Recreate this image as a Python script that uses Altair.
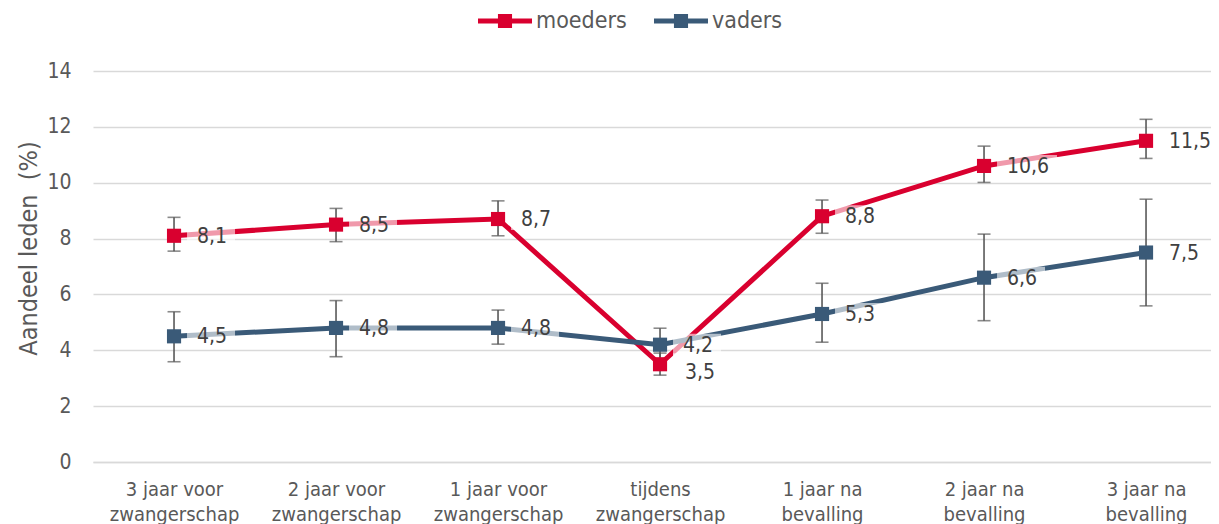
import altair as alt
import pandas as pd

cats = ["3 jaar voor zwangerschap", "2 jaar voor zwangerschap", "1 jaar voor zwangerschap",
        "tijdens zwangerschap", "1 jaar na bevalling", "2 jaar na bevalling", "3 jaar na bevalling"]
series = ["moeders", "vaders"]
moeders = [8.1, 8.5, 8.7, 3.5, 8.8, 10.6, 11.5]
moeders_lo = [7.55, 7.89, 8.10, 3.11, 8.19, 10.01, 10.87]
moeders_hi = [8.76, 9.08, 9.35, 3.90, 9.38, 11.31, 12.27]
vaders = [4.5, 4.8, 4.8, 4.2, 5.3, 6.6, 7.5]
vaders_lo = [3.59, 3.77, 4.22, 3.60, 4.29, 5.06, 5.59]
vaders_hi = [5.38, 5.78, 5.44, 4.79, 6.40, 8.16, 9.41]
y_ticks = [0, 2, 4, 6, 8, 10, 12, 14]

RED = "#D9002F"
BLUE = "#3A5A78"
GREY = "#595959"
FONT = "DejaVu Sans Condensed"

rows = []
for s, vals, lo, hi in [("moeders", moeders, moeders_lo, moeders_hi),
                        ("vaders", vaders, vaders_lo, vaders_hi)]:
    for c, v, l, h in zip(cats, vals, lo, hi):
        rows.append({"cat": c, "series": s, "value": v, "lo": l, "hi": h,
                     "label": f"{v:.1f}".replace(".", ",")})
df = pd.DataFrame(rows)

label_expr = ("split(replace(replace(datum.label, ' zwangerschap', '|zwangerschap'),"
              " ' bevalling', '|bevalling'), '|')")

x = alt.X("cat:N", sort=cats, title=None,
          scale=alt.Scale(type="point", padding=0.4506, align=0.555),
          axis=alt.Axis(labelAngle=0, labelExpr=label_expr, labelFont=FONT, labelFontSize=20,
                        labelColor=GREY, labelLineHeight=25, labelPadding=17, ticks=False,
                        domainColor="#D9D9D9", domainWidth=1.5, grid=False))
y = alt.Y("value:Q", title="Aandeel leden\u00a0\u00a0(%)",
          scale=alt.Scale(domain=[0, 14], nice=False),
          axis=alt.Axis(values=y_ticks, domain=False, ticks=False, labelFont=FONT,
                        labelFontSize=21, labelColor=GREY, labelPadding=22,
                        gridColor="#D9D9D9", gridWidth=1.5,
                        titleFont=FONT, titleFontSize=25, titleColor=GREY,
                        titleFontWeight="normal", titleX=-65, titleY=177,
                        titleBaseline="middle", titleAngle=-90))
color_scale = alt.Scale(domain=series, range=[RED, BLUE])

legend_path = "M-1.8,-0.17H1.8V0.17H-1.8Z M-0.47,-0.47H0.47V0.47H-0.47Z"
legend = alt.Legend(title=None, orient="none", direction="horizontal",
                    legendX=397, legendY=-65, symbolType=legend_path,
                    symbolSize=900, symbolStrokeWidth=0, symbolOpacity=1,
                    labelFont=FONT, labelFontSize=23, labelColor=GREY,
                    labelOffset=16, columnPadding=27, padding=0)

base = alt.Chart(df)

err = base.mark_rule(color=GREY, strokeWidth=1.6).encode(
    x=x, y=alt.Y("lo:Q"), y2="hi:Q")
cap_lo = base.mark_tick(color=GREY, thickness=1.6, size=13).encode(x=x, y="lo:Q")
cap_hi = base.mark_tick(color=GREY, thickness=1.6, size=13).encode(x=x, y="hi:Q")

lines = base.mark_line(strokeWidth=5).encode(
    x=x, y=y, color=alt.Color("series:N", scale=color_scale, legend=legend),
    detail="series:N")

points = base.mark_point(shape="square", filled=True, size=200, opacity=1).encode(
    x=x, y=y,
    color=alt.Color("series:N", scale=color_scale, legend=legend),
    order=alt.Order("series:N"))

short_box = "M1.3,-1.1H6.1V1.1H1.3Z"
long_box = "M1.3,-1.1H7.3V1.1H1.3Z"
boxes = base.mark_point(filled=True, size=400, color="white", opacity=0.6, strokeWidth=0).encode(
    x=x, y=y,
    shape=alt.condition("length(datum.label) > 3", alt.value(long_box), alt.value(short_box)))

is_moved = "datum.series == 'moeders' && datum.cat == 'tijdens zwangerschap'"
labels = base.transform_filter("!(" + is_moved + ")").mark_text(
    align="left", baseline="middle", dx=23, dy=1, font=FONT,
    fontSize=21, color="#404040").encode(x=x, y=y, text="label:N")
labels_moved = base.transform_filter(is_moved).mark_text(
    align="left", baseline="middle", dx=25, dy=9, font=FONT,
    fontSize=21, color="#404040").encode(x=x, y=y, text="label:N")

chart = alt.layer(err, cap_lo, cap_hi, lines, points, boxes, labels, labels_moved).properties(
    width=1118, height=391,
    autosize=alt.AutoSizeParams(type="none"),
    padding={"left": 85, "top": 63, "right": 0, "bottom": 62},
).configure_view(stroke=None)

chart.save("out.html", embed_options={"renderer": "svg", "actions": False})
